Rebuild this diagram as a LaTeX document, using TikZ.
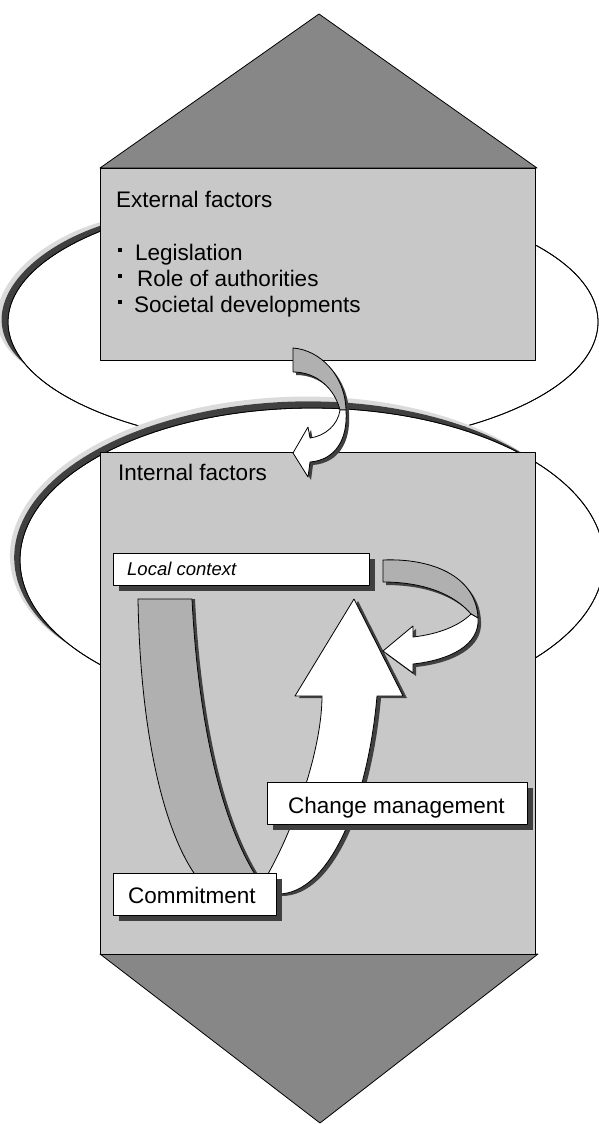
\documentclass[tikz,border=0pt]{standalone}
\usepackage{fontspec}
\setmainfont{Liberation Sans}
\usetikzlibrary{shadows}
\definecolor{tri}{gray}{0.53}
\definecolor{boxg}{gray}{0.785}
\definecolor{ribg}{gray}{0.69}
\definecolor{shad}{gray}{0.25}
\definecolor{bandd}{gray}{0.25}
\definecolor{bandl}{gray}{0.86}
% ring band: cx, cy, a, b, t1, t2, Wdark, Wlight ; profile s(2-s), s = sin(...)
\newcommand\ringband[8]{%
 \fill[bandl] plot[domain=#5:#6, samples=90] ({#1+(#3+(#7+#8)*(sin((\x-#5)/(#6-#5)*180)*(2-sin((\x-#5)/(#6-#5)*180))))*cos(\x)}, {#2-(#4+(#7+#8)*(sin((\x-#5)/(#6-#5)*180)*(2-sin((\x-#5)/(#6-#5)*180))))*sin(\x)})
   -- plot[domain=#6:#5, samples=90] ({#1+(#3+#7*(sin((\x-#5)/(#6-#5)*180)*(2-sin((\x-#5)/(#6-#5)*180))))*cos(\x)}, {#2-(#4+#7*(sin((\x-#5)/(#6-#5)*180)*(2-sin((\x-#5)/(#6-#5)*180))))*sin(\x)}) -- cycle;
 \fill[bandd] plot[domain=#5:#6, samples=90] ({#1+(#3+#7*(sin((\x-#5)/(#6-#5)*180)*(2-sin((\x-#5)/(#6-#5)*180))))*cos(\x)}, {#2-(#4+#7*(sin((\x-#5)/(#6-#5)*180)*(2-sin((\x-#5)/(#6-#5)*180))))*sin(\x)})
   -- plot[domain=#6:#5, samples=90] ({#1+#3*cos(\x)}, {#2-#4*sin(\x)}) -- cycle;
}
\begin{document}
\begin{tikzpicture}[x=1pt,y=-1pt,line join=round,
  txt/.style={anchor=base west, inner sep=0pt, font=\fontsize{22.5}{27}\selectfont},
  smalltxt/.style={txt, font=\fontsize{18.5}{22}\selectfont\itshape},
  outl/.style={draw=black, line width=0.8pt},
  panel/.style={fill=boxg, draw=black, line width=1.2pt},
  labelbox/.style={fill=white, draw=black, line width=1pt, anchor=north west, inner sep=0pt,
     drop shadow={shadow xshift=5pt, shadow yshift=-5pt, fill=shad, opacity=1}},
  ring/.style={draw=black, line width=0.8pt},
  whitepart/.style={fill=white, outl},
  graypart/.style={fill=ribg, outl},
  shadowpart/.style={fill=shad}]
\useasboundingbox (0,0) rectangle (599,1124);
\fill[white] (0,0) rectangle (599,1124);

% top triangle
\coordinate (tapex) at (319,14);
\filldraw[fill=tri, outl] (100,168) -- (tapex) -- (537,168) -- cycle;

% upper ring
\draw[ring] (303,322) ellipse [x radius=295, y radius=125];
\ringband{303}{322}{295}{125}{118}{200}{7}{5}
\draw[ring] (303,322) ellipse [x radius=295, y radius=125];

% external panel
\node[panel, anchor=north west, minimum width=435pt, minimum height=192pt, inner sep=0pt] (extpanel) at (100,168) {};
\node[txt] (ext) at (116,207) {External factors};
\fill (117.5,247.8) rectangle (122,252.3);
\fill (117.5,273.8) rectangle (122,278.3);
\fill (117.5,299.8) rectangle (122,304.3);
\node[txt] (leg) at (135,260) {Legislation};
\node[txt] (role) at (137,286) {Role of authorities};
\node[txt] (soc) at (134,312) {Societal developments};

% lower ring
\filldraw[fill=white, ring] (312,560) ellipse [x radius=292, y radius=152];
\ringband{312}{560}{292}{152}{40}{215}{7}{5}
\draw[ring] (312,560) ellipse [x radius=292, y radius=152];

% bottom triangle
\coordinate (bapex) at (320,1123);
\filldraw[fill=tri, outl] (100,954) -- (bapex) -- (538,954) -- cycle;

% internal panel
\node[panel, anchor=north west, minimum width=435pt, minimum height=502pt, inner sep=0pt] (intpanel) at (100,452) {};
\node[txt] (int) at (118,480) {Internal factors};

% local context
\node[labelbox, minimum width=256pt, minimum height=32pt] (lcbox) at (113,553) {};
\node[smalltxt] (lct) at (127,575) {Local context};

% gray ribbon (back of the loop)
\def\ribpath{(138,599) -- (192,599) .. controls (197,700) and (215,810) .. (256,876) -- (196,876) .. controls (160,825) and (140,720) .. (138,599) -- cycle}
\fill[shadowpart, shift={(3,0)}] \ribpath;
\filldraw[graypart] \ribpath;

% big white arrow
\def\bigarrowpath{(354,599) -- (403,696) -- (377,696) .. controls (368,800) and (330,894) .. (278,894) -- (240,894) -- (240,874) -- (268,874) .. controls (298,820) and (322,745) .. (322,696) -- (295,696) -- cycle}
\fill[shadowpart, shift={(4,2)}] \bigarrowpath;
\filldraw[whitepart] \bigarrowpath;

% change management and commitment
\node[labelbox, minimum width=260pt, minimum height=42pt] (cmbox) at (267,782) {};
\node[txt] (cmt) at (288,813) {Change management};
\node[labelbox, minimum width=163pt, minimum height=42pt] (combox) at (113,873) {};
\node[txt] (comt) at (128,903) {Commitment};

% loop arrow from local context back to the arrow
\def\loopgray{(383,560) .. controls (430,558) and (476,575) .. (478,618) -- (471,614) .. controls (455,595) and (425,582) .. (383,582) -- cycle}
\def\loopwhite{(478,618) .. controls (480,645) and (450,660) .. (413,664) -- (413,673) -- (383,651) -- (413,626) -- (413,637) .. controls (440,634) and (460,625) .. (471,614) -- cycle}
\fill[shadowpart, shift={(3,3)}] \loopgray;
\fill[shadowpart, shift={(3,3)}] \loopwhite;
\filldraw[graypart] \loopgray;
\filldraw[whitepart] \loopwhite;

% arrow from external to internal factors
\def\eigray{(293,348) .. controls (320,350) and (345,375) .. (346,410) -- (340,410) .. controls (335,390) and (318,372) .. (293,372) -- cycle}
\def\eiwhite{(346,410) .. controls (348,440) and (335,460) .. (310,462) -- (308,477) -- (293,453) -- (308,427) -- (310,438) .. controls (325,436) and (338,425) .. (340,410) -- cycle}
\fill[shadowpart, shift={(3,3)}] \eigray;
\fill[shadowpart, shift={(3,3)}] \eiwhite;
\filldraw[graypart] \eigray;
\filldraw[whitepart] \eiwhite;
\end{tikzpicture}
\end{document}
